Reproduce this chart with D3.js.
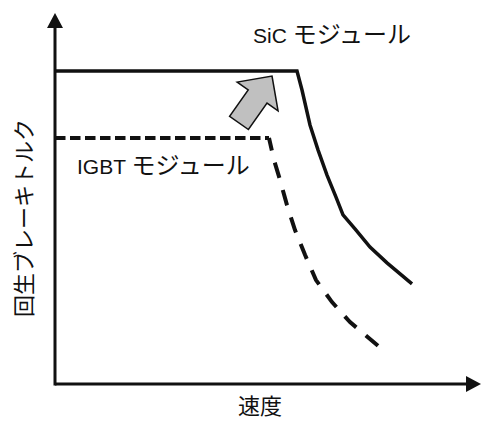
<!DOCTYPE html>
<html><head><meta charset="utf-8">
<script src="https://cdn.jsdelivr.net/npm/d3@7"></script>
<style>
html,body{margin:0;padding:0;background:#fff;}
svg{display:block;}
text{font-family:"Liberation Sans",Arial,"Noto Sans CJK JP",sans-serif;fill:#111;}
</style></head>
<body>
<svg id="c" width="481" height="423"></svg>
<script>
// Data (abstract units: speed 0-100, torque 0-100)
const sicSpeed  = [0, 60.5, 61.75, 63.75, 65.75, 68, 70.25, 72, 75, 78.75, 83, 89.25];
const sicTorque = [89.4, 89.4, 84, 74, 66.9, 59.7, 53.4, 48.3, 44.3, 39.1, 34.6, 28.6];
const igbtSpeed  = [0, 53.5, 54.75, 56.25, 58, 60, 62.5, 65.25, 69.25, 73.75, 80.75];
const igbtTorque = [70.3, 70.3, 64, 58.3, 51.1, 44, 36.9, 29.7, 23.4, 17.7, 10.9];
const igbtKnee = 1;
const arrowFrom = [46, 74.6];
const arrowTo = [54.25, 88];
const sicLabel = ["SiC ", "モジュール"];
const igbtLabel = ["IGBT ", "モジュール"];
const xLabel = "速度";
const yLabel = "回生ブレーキトルク";

const svg = d3.select("#c");
const x = d3.scaleLinear().domain([0, 100]).range([55, 455]);
const y = d3.scaleLinear().domain([0, 100]).range([384, 34]);

// axes
svg.append("line").attr("x1", x(0)).attr("x2", 470).attr("y1", y(0)).attr("y2", y(0))
  .attr("stroke", "#111").attr("stroke-width", 3);
svg.append("line").attr("x1", x(0)).attr("x2", x(0)).attr("y1", y(0) + 1.5).attr("y2", 25)
  .attr("stroke", "#111").attr("stroke-width", 3);
svg.append("path").attr("d", d3.line()([[x(0), 13], [x(0) - 8, 28], [x(0) + 8, 28]]) + "Z").attr("fill", "#111");
svg.append("path").attr("d", d3.line()([[481, y(0)], [466, y(0) - 8], [466, y(0) + 8]]) + "Z").attr("fill", "#111");

const line = d3.line().x(d => x(d[0])).y(d => y(d[1]));

// SiC
const sic = sicSpeed.map((s, i) => [s, sicTorque[i]]);
svg.append("path").attr("d", line(sic)).attr("fill", "none").attr("stroke", "#111")
  .attr("stroke-width", 3.5).attr("stroke-linejoin", "miter");

// IGBT (flat part and falling part)
const igbt = igbtSpeed.map((s, i) => [s, igbtTorque[i]]);
svg.append("path").attr("d", line(igbt.slice(0, igbtKnee + 1))).attr("fill", "none").attr("stroke", "#111")
  .attr("stroke-width", 4).attr("stroke-dasharray", "10.5,4.5");
const curve = svg.append("path").attr("d", line(igbt.slice(igbtKnee))).attr("fill", "none").attr("stroke", "#111")
  .attr("stroke-width", 4).attr("stroke-dasharray", "16,12.5");
{
  const L = curve.node().getTotalLength(), d = 16, P = 28.5;
  const o = (((d - L) % P) + P) % P;
  curve.attr("stroke-dashoffset", o);
}

// block arrow
(function(){
  const fx = x(arrowFrom[0]), fy = y(arrowFrom[1]), tx = x(arrowTo[0]), ty = y(arrowTo[1]);
  const dx = tx - fx, dy = ty - fy, L = Math.hypot(dx, dy);
  const ux = dx / L, uy = dy / L, nx = -uy, ny = ux;
  const headLen = 25, headW = 25, shaftW = 11.5;
  const bx = tx - ux * headLen, by = ty - uy * headLen;
  const pts = [
    [tx, ty],
    [bx + nx * headW, by + ny * headW],
    [bx + nx * shaftW, by + ny * shaftW],
    [fx + nx * shaftW, fy + ny * shaftW],
    [fx - nx * shaftW, fy - ny * shaftW],
    [bx - nx * shaftW, by - ny * shaftW],
    [bx - nx * headW, by - ny * headW]
  ];
  svg.append("path").attr("d", d3.line()(pts) + "Z").attr("fill", "#c0c0c0")
    .attr("stroke", "#111").attr("stroke-width", 1.5).attr("stroke-linejoin", "miter");
})();

// labels
function mixed(tx, ty, parts) {
  const t = svg.append("text").attr("x", tx).attr("y", ty);
  t.append("tspan").attr("font-size", 21).text(parts[0]);
  t.append("tspan").attr("font-size", 24).attr("font-family", "'Noto Sans CJK JP',sans-serif").text(parts[1]);
}
mixed(253, 43, sicLabel);
mixed(77, 174, igbtLabel);
svg.append("text").attr("x", 260).attr("y", 414).attr("text-anchor", "middle").attr("font-size", 22).text(xLabel);
svg.append("text").attr("transform", "translate(31.5,218) rotate(-90)").attr("text-anchor", "middle")
  .attr("font-size", 22).text(yLabel);
</script>
</body></html>
